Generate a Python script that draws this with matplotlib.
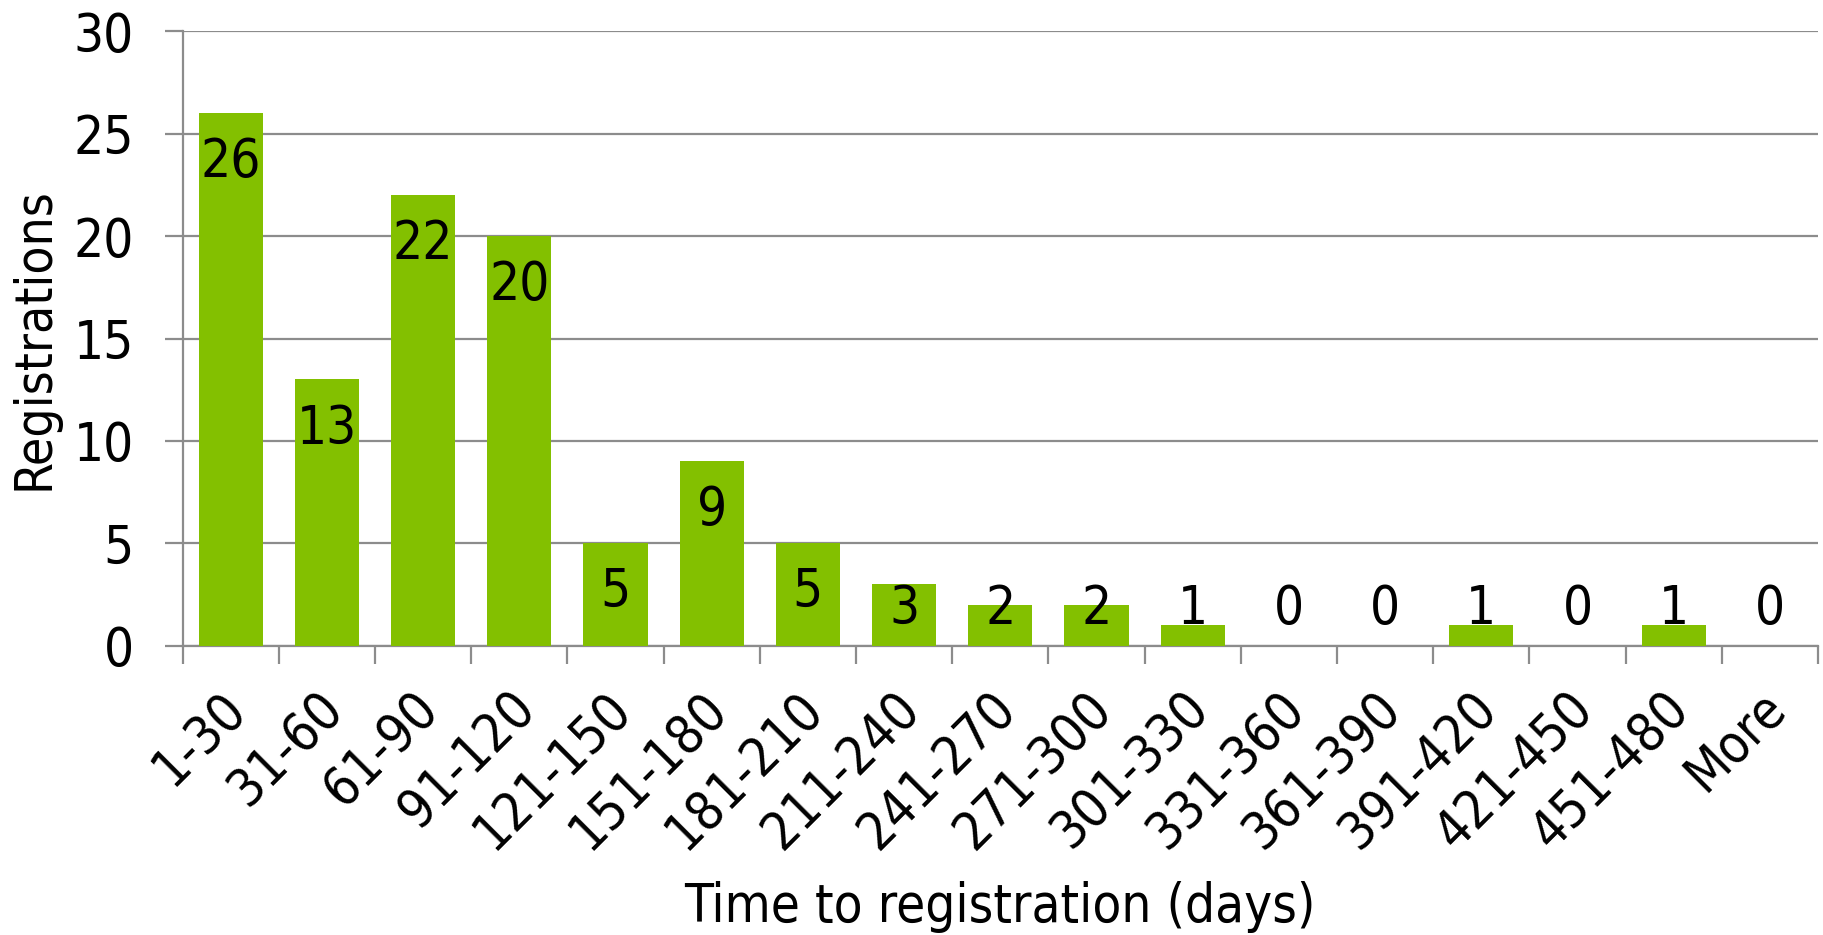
import matplotlib
matplotlib.use("Agg")
import matplotlib.pyplot as plt
import matplotlib.transforms as mtransforms
import numpy as np

categories = ["1-30", "31-60", "61-90", "91-120", "121-150", "151-180",
              "181-210", "211-240", "241-270", "271-300", "301-330",
              "331-360", "361-390", "391-420", "421-450", "451-480", "More"]
registrations = [26, 13, 22, 20, 5, 9, 5, 3, 2, 2, 1, 0, 0, 1, 0, 1, 0]
y_ticks = [0, 5, 10, 15, 20, 25, 30]

BAR_COLOR = "#83C000"
GRID_COLOR = "#8C8C8C"
FONT = "DejaVu Sans"
FS = 38

plt.rcParams["font.family"] = FONT
plt.rcParams["font.stretch"] = "condensed"

fig = plt.figure(figsize=(18.24, 9.35), dpi=100)
ax = fig.add_axes([0.1001, 0.3095, 0.8966, 0.6569])

x = np.arange(len(categories))
ax.bar(x, registrations, width=0.667, color=BAR_COLOR, zorder=3)

ax.set_xlim(-0.5, len(categories) - 0.5)
ax.set_ylim(0, 30)
ax.set_yticks(y_ticks)
ax.set_yticklabels([str(t) for t in y_ticks], fontsize=FS)
ax.yaxis.grid(True, color=GRID_COLOR, linewidth=1.6, zorder=0)
ax.set_axisbelow(True)

# category boundaries carry the tick marks, labels sit at bar centres
ax.set_xticks(np.arange(len(categories) + 1) - 0.5)
ax.set_xticklabels([])
ax.set_xticks(x, minor=True)
ax.set_xticklabels(categories, minor=True, fontsize=FS, rotation=45,
                   ha="right", va="top", rotation_mode="anchor")
ax.tick_params(axis="x", which="major", direction="out", length=13,
               width=1.6, color=GRID_COLOR)
ax.tick_params(axis="x", which="minor", length=0, pad=26)
ax.tick_params(axis="y", direction="out", length=13, width=1.6,
               color=GRID_COLOR, pad=22)
shift = mtransforms.ScaledTranslation(-8 / 72, 0, fig.dpi_scale_trans)
for lbl in ax.get_xticklabels(minor=True):
    lbl.set_transform(lbl.get_transform() + shift)

for side in ("top", "right"):
    ax.spines[side].set_visible(False)
for side in ("left", "bottom"):
    ax.spines[side].set_color(GRID_COLOR)
    ax.spines[side].set_linewidth(1.6)

# value labels sit inside the bar end, but never below the baseline
for xi, v in zip(x, registrations):
    y_lab = max(v - 2.4, 1.81)
    ax.text(xi, y_lab, str(v), ha="center", va="center", fontsize=FS,
            color="black", zorder=4)

ax.set_ylabel("Registrations", fontsize=37, labelpad=10)
ax.set_xlabel("Time to registration (days)", fontsize=FS, labelpad=16)

fig.savefig("out.png", dpi=100)
